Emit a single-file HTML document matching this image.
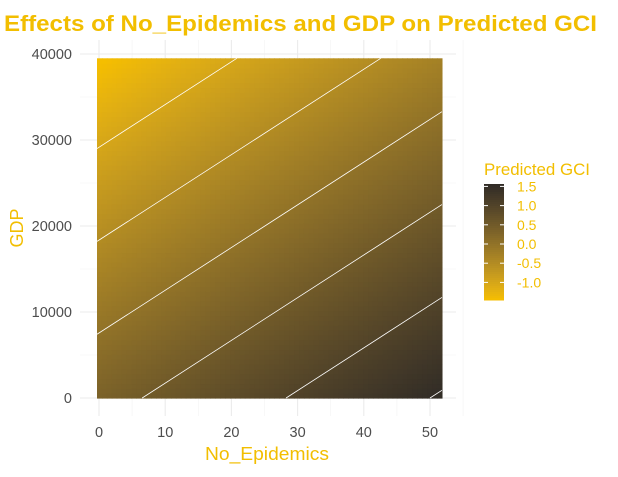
<!DOCTYPE html>
<html><head><meta charset="utf-8"><style>
body{margin:0;background:#fff;}
svg text{font-family:"Liberation Sans",sans-serif;}
</style></head><body>
<svg id="chart" width="618" height="472" xmlns="http://www.w3.org/2000/svg">
<rect width="618" height="472" fill="#fff"/>
<g id="grid"></g>
<g id="raster"></g>
<g id="contours"></g>
<g id="axes"></g>
<text x="4" y="31" font-size="22" font-weight="bold" fill="#F2BE00" textLength="593" lengthAdjust="spacingAndGlyphs">Effects of No_Epidemics and GDP on Predicted GCI</text>
<text x="205" y="460" font-size="18" fill="#F2BE00" textLength="124" lengthAdjust="spacingAndGlyphs">No_Epidemics</text>
<text transform="translate(23,228) rotate(-90)" font-size="18" fill="#F2BE00" text-anchor="middle">GDP</text>
<g id="legend">
<text x="484" y="175" font-size="17" fill="#F2BE00" textLength="106" lengthAdjust="spacingAndGlyphs">Predicted GCI</text>
<g id="lbar"></g>
</g>
</svg>
<script>
// data
const intercept = [0.35];
const slopeEpidemics = [0.023];
const slopeGDP = [-0.0000463];
const contourLevels = [-1.0, -0.5, 0.0, 0.5, 1.0, 1.5];
const xTicks = [0, 10, 20, 30, 40, 50];
const yTicks = [0, 10000, 20000, 30000, 40000];
const legendTicks = [-1.0, -0.5, 0.0, 0.5, 1.0, 1.5];
const legendLabels = ["-1.0", "-0.5", "0.0", "0.5", "1.0", "1.5"];
const xDomain = [-0.3, 51.8];
const yDomain = [0, 39500];
const zRange = [-1.45, 1.58];

const NS = "http://www.w3.org/2000/svg";
const xs = v => 99 + (v - 0) * 6.62;
const ys = v => 398 - v * 0.0086;
const zf = (e, g) => intercept[0] + slopeEpidemics[0] * e + slopeGDP[0] * g;
// Lab interpolation
function s2l(c){c/=255;return c<=0.04045?c/12.92:Math.pow((c+0.055)/1.055,2.4);}
function l2s(c){c=c<=0.0031308?12.92*c:1.055*Math.pow(c,1/2.4)-0.055;return Math.max(0,Math.min(255,Math.round(c*255)));}
function toLab(rgb){const [r,g,b]=rgb.map(s2l);
  let X=(0.4124*r+0.3576*g+0.1805*b)/0.95047,Y=0.2126*r+0.7152*g+0.0722*b,Z=(0.0193*r+0.1192*g+0.9505*b)/1.08883;
  const f=t=>t>0.008856?Math.cbrt(t):7.787*t+16/116;
  return [116*f(Y)-16,500*(f(X)-f(Y)),200*(f(Y)-f(Z))];}
function fromLab(L,a,b){const fy=(L+16)/116,fx=fy+a/500,fz=fy-b/200;
  const fi=t=>t*t*t>0.008856?t*t*t:(t-16/116)/7.787;
  const X=fi(fx)*0.95047,Y=fi(fy),Z=fi(fz)*1.08883;
  const r=3.2406*X-1.5372*Y-0.4986*Z,g=-0.9689*X+1.8758*Y+0.0415*Z,bb=0.0557*X-0.2040*Y+1.0570*Z;
  return "rgb("+[r,g,bb].map(l2s).join(",")+")";}
const lowLab = toLab([245, 190, 0]), highLab = toLab([46, 42, 38]);
function col(z) {
  let t = (z - zRange[0]) / (zRange[1] - zRange[0]); t = Math.max(0, Math.min(1, t));
  return fromLab(...lowLab.map((c, i) => c + (highLab[i] - c) * t));
}
function mk(tag, attrs, parent) {
  const el = document.createElementNS(NS, tag);
  for (const k in attrs) el.setAttribute(k, attrs[k]);
  parent.appendChild(el); return el;
}
const grid = document.getElementById("grid");
for (let i = 0; i < xTicks.length; i++) {
  const l = mk("line", {x1: xs(xTicks[i]), x2: xs(xTicks[i]), y1: 40, y2: 416, stroke: "#ebebeb", "stroke-width": 1.1}, grid);
  
  
  const m = mk("line", {x1: xs(xTicks[i] + 5), x2: xs(xTicks[i] + 5), y1: 40, y2: 416, stroke: "#f3f3f3", "stroke-width": 0.6}, grid);
  
  
}
for (let i = 0; i < yTicks.length; i++) {
  const l = mk("line", {x1: 80, x2: 456, y1: ys(yTicks[i]), y2: ys(yTicks[i]), stroke: "#ebebeb", "stroke-width": 1.1}, grid);
  
  
  if (i < yTicks.length - 1) {
    const m = mk("line", {x1: 80, x2: 456, y1: ys(yTicks[i] + 5000), y2: ys(yTicks[i] + 5000), stroke: "#f3f3f3", "stroke-width": 0.6}, grid);
    
    
  }
}
const raster = document.getElementById("raster");
const NX = 70, NY = 70;
const dx = (xDomain[1] - xDomain[0]) / NX, dy = (yDomain[1] - yDomain[0]) / NY;
for (let i = 0; i < NX; i++) for (let j = 0; j < NY; j++) {
  const e0 = xDomain[0] + i * dx, g0 = yDomain[0] + j * dy;
  const x0 = xs(e0), x1 = xs(e0 + dx), y0 = ys(g0 + dy), y1 = ys(g0);
  const r = mk("rect", {x: x0.toFixed(2), y: y0.toFixed(2), width: (x1 - x0 + 0.6).toFixed(2), height: (y1 - y0 + 0.6).toFixed(2), fill: col(zf(e0 + dx / 2, g0 + dy / 2))}, raster);
  
  
}
const cg = document.getElementById("contours");
contourLevels.forEach(lv => {
  const gAt = e => (lv - intercept[0] - slopeEpidemics[0] * e) / slopeGDP[0];
  const eAt = g => (lv - intercept[0] - slopeGDP[0] * g) / slopeEpidemics[0];
  let eA = Math.max(xDomain[0], eAt(yDomain[0])), eB = Math.min(xDomain[1], eAt(yDomain[1]));
  if (eA >= eB) return;
  const p = mk("line", {x1: xs(eA), y1: ys(gAt(eA)), x2: xs(eB), y2: ys(gAt(eB)), stroke: "#ffffff", "stroke-width": 0.8}, cg);
  
  
});
const axes = document.getElementById("axes");
xTicks.forEach(v => {
  const t = mk("text", {x: xs(v), y: 437, "font-size": 14.5, fill: "#4d4d4d", "text-anchor": "middle"}, axes);
  t.textContent = String(v);
  
  
});
yTicks.forEach(v => {
  const t = mk("text", {x: 72, y: ys(v) + 5, "font-size": 14.5, fill: "#4d4d4d", "text-anchor": "end"}, axes);
  t.textContent = String(v);
  
  
});
const leg = document.getElementById("legend");
const lbar = document.getElementById("lbar");
const ls = v => 244 - v * 38.4;
const lvals = ls.length;
for (let k = 0; k < 58; k++) {
  const y0 = 184 + k * 2;
  const zv = (244 - (y0 + 1)) / 38.4;
  const r = mk("rect", {x: 484, y: y0, width: 20, height: 2.5, fill: col(zv)}, lbar);
  
  
}
legendTicks.forEach((v, i) => {
  const a = mk("line", {x1: 484, x2: 488, y1: ls(v), y2: ls(v), stroke: "#fff", "stroke-width": 1}, leg);
  
  
  const b = mk("line", {x1: 500, x2: 504, y1: ls(v), y2: ls(v), stroke: "#fff", "stroke-width": 1}, leg);
  
  
  const t = mk("text", {x: 517, y: ls(v) + 5, "font-size": 14, fill: "#F2BE00"}, leg);
  t.textContent = legendLabels[i];
  
  
});
</script>
</body></html>
